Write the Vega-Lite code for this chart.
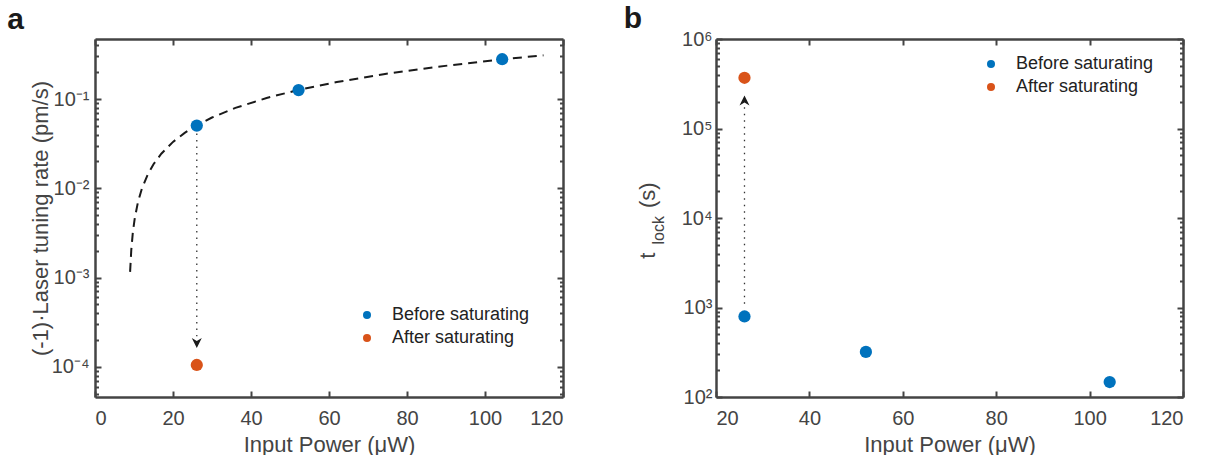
{
  "$schema": "https://vega.github.io/schema/vega-lite/v6.json",
  "background": "white",
  "padding": {"left": 7, "top": 4, "right": 5, "bottom": 0},
  "spacing": 59,
  "datasets": {
    "curve": [
      {"P": 9.0, "rate": 0.00116},
      {"P": 9.3, "rate": 0.00203},
      {"P": 9.7, "rate": 0.00319},
      {"P": 10.2, "rate": 0.00464},
      {"P": 11.0, "rate": 0.00696},
      {"P": 12.0, "rate": 0.00986},
      {"P": 13.5, "rate": 0.0142},
      {"P": 15.0, "rate": 0.0186},
      {"P": 17.0, "rate": 0.0244},
      {"P": 20.0, "rate": 0.0331},
      {"P": 23.0, "rate": 0.0418},
      {"P": 26.0, "rate": 0.0505},
      {"P": 30.0, "rate": 0.0621},
      {"P": 36.0, "rate": 0.0795},
      {"P": 44.0, "rate": 0.1027},
      {"P": 52.0, "rate": 0.1259},
      {"P": 62.0, "rate": 0.1549},
      {"P": 74.0, "rate": 0.1897},
      {"P": 88.0, "rate": 0.2303},
      {"P": 104.4, "rate": 0.2778},
      {"P": 115.0, "rate": 0.3086}
    ],
    "ptsA": [
      {"P": 26.1, "rate": 0.0504, "state": "Before saturating"},
      {"P": 52.2, "rate": 0.126, "state": "Before saturating"},
      {"P": 104.4, "rate": 0.279, "state": "Before saturating"},
      {"P": 26.1, "rate": 0.000105, "state": "After saturating"}
    ],
    "arrowA": [{"P": 26.1, "from": 0.041, "to": 0.00022, "head": 0.000185}],
    "ptsB": [
      {"P": 26.1, "t": 794, "state": "Before saturating"},
      {"P": 52.1, "t": 319, "state": "Before saturating"},
      {"P": 104.3, "t": 147, "state": "Before saturating"},
      {"P": 26.1, "t": 369000, "state": "After saturating"}
    ],
    "arrowB": [{"P": 26.1, "from": 1100, "to": 185000, "head": 205000}]
  },
  "hconcat": [
    {
      "width": 468,
      "height": 358,
      "title": {"text": "a", "anchor": "start", "frame": "bounds", "dx": -22, "offset": 3, "fontSize": 30, "fontWeight": "bold", "font": "Liberation Sans", "color": "#1a1a1a"},
      "layer": [
        {
          "data": {"name": "curve"},
          "mark": {"type": "line", "color": "#1a1a1a", "strokeWidth": 2, "strokeDash": [9, 6]},
          "encoding": {
            "x": {"field": "P", "type": "quantitative", "scale": {"domain": [0, 120], "nice": false, "zero": false},
              "axis": {"orient": "bottom", "values": [0, 20, 40, 60, 80, 100, 120], "title": "Input Power (μW)", "tickSize": -6, "labelPadding": 17, "titlePadding": 6}},
            "y": {"field": "rate", "type": "quantitative", "scale": {"type": "log", "domain": [0.000046, 0.47], "nice": false},
              "axis": {"orient": "left", "title": "(-1)·Laser tuning rate (pm/s)",
                "values": [0.00005, 0.00006, 0.00007, 0.00008, 0.00009, 0.0001, 0.0002, 0.0003, 0.0004, 0.0005, 0.0006, 0.0007, 0.0008, 0.0009, 0.001, 0.002, 0.003, 0.004, 0.005, 0.006, 0.007, 0.008, 0.009, 0.01, 0.02, 0.03, 0.04, 0.05, 0.06, 0.07, 0.08, 0.09, 0.1, 0.2, 0.3, 0.4],
                "labelExpr": "datum.value == 0.1 ? '10⁻¹' : datum.value == 0.01 ? '10⁻²' : datum.value == 0.001 ? '10⁻³' : datum.value == 0.0001 ? '10⁻⁴' : ''",
                "tickSize": {"condition": {"test": "indexof([0.0001, 0.001, 0.01, 0.1], datum.value) >= 0", "value": -6}, "value": -3.5},
                "labelPadding": 12, "titlePadding": -1}}
          }
        },
        {
          "data": {"name": "arrowA"},
          "mark": {"type": "rule", "color": "#333333", "strokeWidth": 1.3, "strokeDash": [1.5, 5]},
          "encoding": {
            "x": {"field": "P", "type": "quantitative", "axis": null},
            "y": {"field": "from", "type": "quantitative", "axis": null},
            "y2": {"field": "to"}
          }
        },
        {
          "data": {"name": "arrowA"},
          "mark": {"type": "point", "filled": true, "color": "#1a1a1a", "opacity": 1, "size": 100, "shape": "M-1,-1L0,1L1,-1L0,-0.4Z"},
          "encoding": {
            "x": {"field": "P", "type": "quantitative", "axis": null},
            "y": {"field": "head", "type": "quantitative", "axis": null}
          }
        },
        {
          "data": {"name": "ptsA"},
          "mark": {"type": "point", "filled": true, "opacity": 1, "size": 150},
          "encoding": {
            "x": {"field": "P", "type": "quantitative",
              "axis": {"orient": "top", "values": [0, 20, 40, 60, 80, 100, 120], "labels": false, "title": null, "tickSize": -6}},
            "y": {"field": "rate", "type": "quantitative",
              "axis": {"orient": "right", "labels": false, "title": null,
                "values": [0.00005, 0.00006, 0.00007, 0.00008, 0.00009, 0.0001, 0.0002, 0.0003, 0.0004, 0.0005, 0.0006, 0.0007, 0.0008, 0.0009, 0.001, 0.002, 0.003, 0.004, 0.005, 0.006, 0.007, 0.008, 0.009, 0.01, 0.02, 0.03, 0.04, 0.05, 0.06, 0.07, 0.08, 0.09, 0.1, 0.2, 0.3, 0.4],
                "tickSize": {"condition": {"test": "indexof([0.0001, 0.001, 0.01, 0.1], datum.value) >= 0", "value": -6}, "value": -3.5}}},
            "color": {"field": "state", "type": "nominal",
              "scale": {"domain": ["Before saturating", "After saturating"], "range": ["#0072BD", "#D95319"]},
              "legend": {"orient": "none", "legendX": 263, "legendY": 267}}
          }
        }
      ],
      "resolve": {"axis": {"x": "independent", "y": "independent"}}
    },
    {
      "width": 467,
      "height": 358,
      "title": {"text": "b", "anchor": "start", "frame": "bounds", "dx": -13, "offset": -5, "fontSize": 30, "fontWeight": "bold", "font": "Liberation Sans", "color": "#1a1a1a"},
      "layer": [
        {
          "data": {"name": "arrowB"},
          "mark": {"type": "rule", "color": "#333333", "strokeWidth": 1.3, "strokeDash": [1.5, 5]},
          "encoding": {
            "x": {"field": "P", "type": "quantitative", "scale": {"domain": [20, 120], "nice": false, "zero": false},
              "axis": {"orient": "bottom", "values": [20, 40, 60, 80, 100, 120], "title": "Input Power (μW)", "tickSize": -6, "labelPadding": 17, "titlePadding": 6}},
            "y": {"field": "from", "type": "quantitative", "scale": {"type": "log", "domain": [100, 1000000], "nice": false},
              "axis": {"orient": "left", "title": null,
                "values": [100, 200, 300, 400, 500, 600, 700, 800, 900, 1000, 2000, 3000, 4000, 5000, 6000, 7000, 8000, 9000, 10000, 20000, 30000, 40000, 50000, 60000, 70000, 80000, 90000, 100000, 200000, 300000, 400000, 500000, 600000, 700000, 800000, 900000, 1000000],
                "labelExpr": "datum.value == 100 ? '10²' : datum.value == 1000 ? '10³' : datum.value == 10000 ? '10⁴' : datum.value == 100000 ? '10⁵' : datum.value == 1000000 ? '10⁶' : ''",
                "tickSize": {"condition": {"test": "indexof([100, 1000, 10000, 100000, 1000000], datum.value) >= 0", "value": -6}, "value": -3.5},
                "labelPadding": 10}},
            "y2": {"field": "to"}
          }
        },
        {
          "data": {"name": "arrowB"},
          "mark": {"type": "point", "filled": true, "color": "#1a1a1a", "opacity": 1, "size": 100, "shape": "M-1,1L0,-1L1,1L0,0.4Z"},
          "encoding": {
            "x": {"field": "P", "type": "quantitative", "axis": null},
            "y": {"field": "head", "type": "quantitative", "axis": null}
          }
        },
        {
          "data": {"values": [{"txt": "t"}]},
          "mark": {"type": "text", "angle": 270, "align": "center", "baseline": "middle", "font": "Liberation Sans", "fontSize": 22, "color": "#444444"},
          "encoding": {
            "text": {"field": "txt"},
            "x": {"datum": 5.4, "type": "quantitative", "axis": null},
            "y": {"datum": 3800, "type": "quantitative", "axis": null}
          }
        },
        {
          "data": {"values": [{"txt": "lock"}]},
          "mark": {"type": "text", "angle": 270, "align": "center", "baseline": "middle", "font": "Liberation Sans", "fontSize": 16, "color": "#444444"},
          "encoding": {
            "text": {"field": "txt"},
            "x": {"datum": 7.9, "type": "quantitative", "axis": null},
            "y": {"datum": 7300, "type": "quantitative", "axis": null}
          }
        },
        {
          "data": {"values": [{"txt": "(s)"}]},
          "mark": {"type": "text", "angle": 270, "align": "center", "baseline": "middle", "font": "Liberation Sans", "fontSize": 22, "color": "#444444"},
          "encoding": {
            "text": {"field": "txt"},
            "x": {"datum": 5.4, "type": "quantitative", "axis": null},
            "y": {"datum": 18000, "type": "quantitative", "axis": null}
          }
        },
        {
          "data": {"name": "ptsB"},
          "mark": {"type": "point", "filled": true, "opacity": 1, "size": 150},
          "encoding": {
            "x": {"field": "P", "type": "quantitative",
              "axis": {"orient": "top", "values": [20, 40, 60, 80, 100, 120], "labels": false, "title": null, "tickSize": -6}},
            "y": {"field": "t", "type": "quantitative",
              "axis": {"orient": "right", "labels": false, "title": null,
                "values": [100, 200, 300, 400, 500, 600, 700, 800, 900, 1000, 2000, 3000, 4000, 5000, 6000, 7000, 8000, 9000, 10000, 20000, 30000, 40000, 50000, 60000, 70000, 80000, 90000, 100000, 200000, 300000, 400000, 500000, 600000, 700000, 800000, 900000, 1000000],
                "tickSize": {"condition": {"test": "indexof([100, 1000, 10000, 100000, 1000000], datum.value) >= 0", "value": -6}, "value": -3.5}}},
            "color": {"field": "state", "type": "nominal",
              "scale": {"domain": ["Before saturating", "After saturating"], "range": ["#0072BD", "#D95319"]},
              "legend": {"orient": "none", "legendX": 266, "legendY": 16}}
          }
        }
      ],
      "resolve": {"axis": {"x": "independent", "y": "independent"}}
    }
  ],
  "resolve": {"scale": {"color": "independent"}, "legend": {"color": "independent"}},
  "config": {
    "view": {"stroke": null},
    "axis": {
      "grid": false,
      "domainColor": "#444444",
      "domainWidth": 2.5,
      "tickColor": "#444444",
      "tickWidth": 2,
      "labelFont": "Liberation Sans",
      "labelFontSize": 20,
      "labelColor": "#444444",
      "titleFont": "Liberation Sans",
      "titleFontSize": 22,
      "titleFontWeight": "normal",
      "titleColor": "#444444"
    },
    "legend": {
      "title": null,
      "labelFont": "Liberation Sans",
      "labelFontSize": 18,
      "labelColor": "#222222",
      "symbolType": "circle",
      "symbolSize": 64,
      "symbolStrokeWidth": 0,
      "rowPadding": 5,
      "labelOffset": 16,
      "padding": 0
    }
  }
}
